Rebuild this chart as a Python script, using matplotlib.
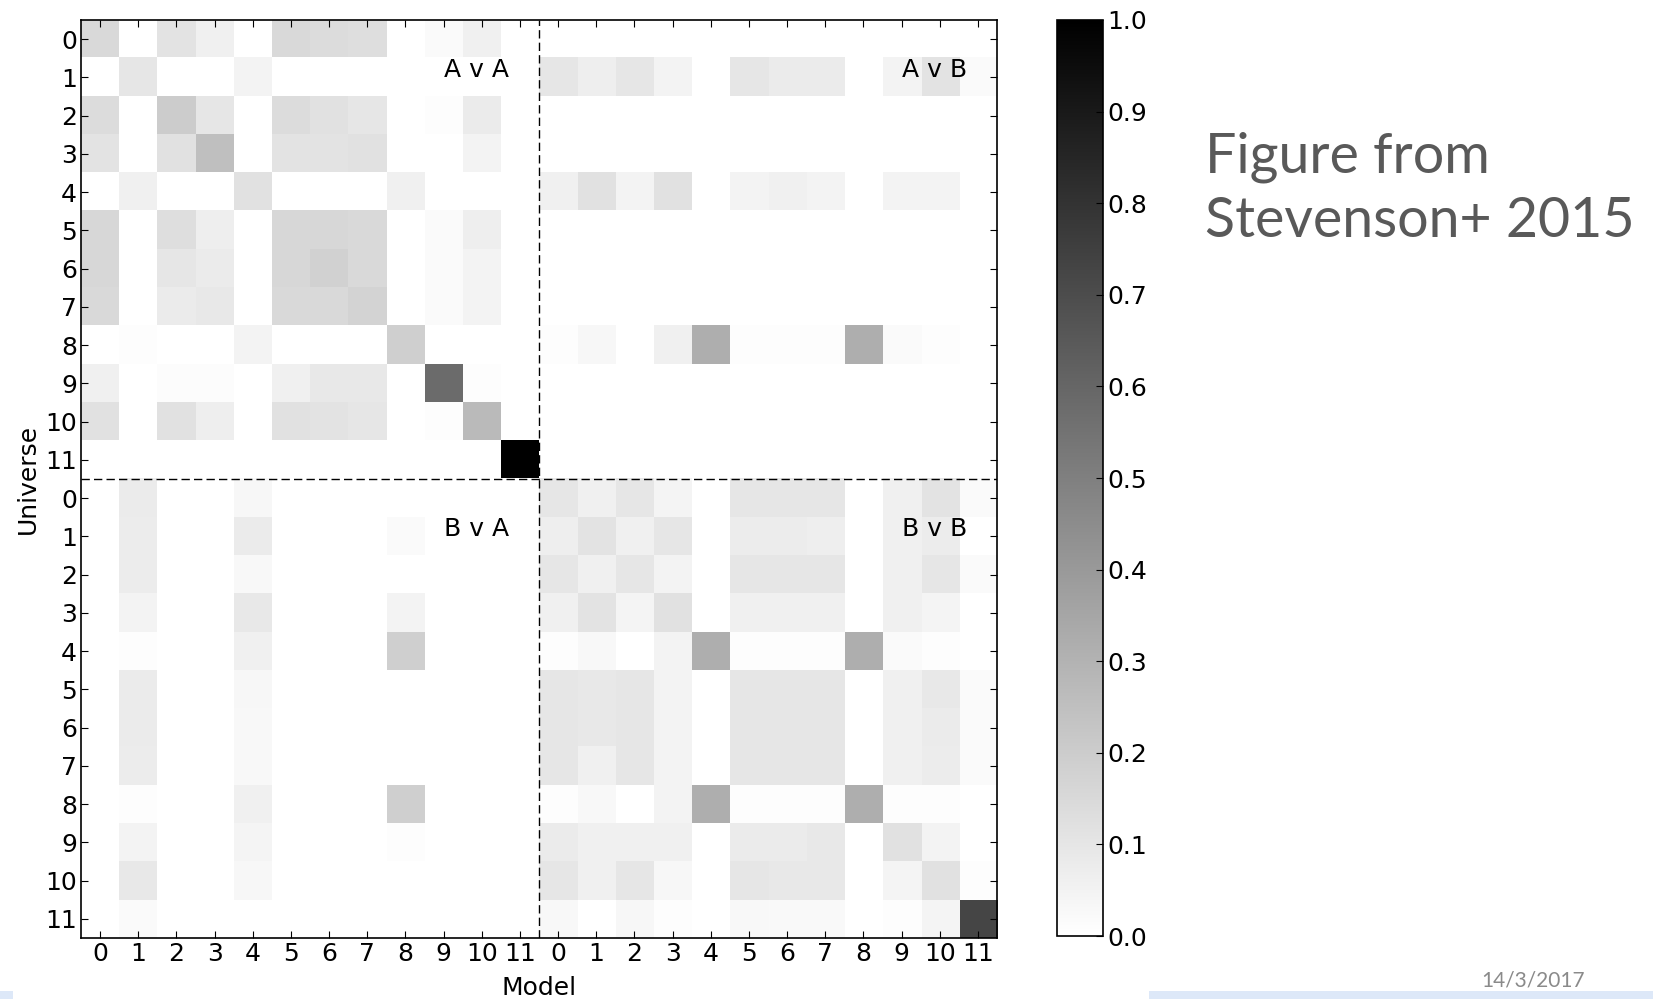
import numpy as np
import matplotlib
matplotlib.use('Agg')
import matplotlib.pyplot as plt
from matplotlib.patches import Rectangle

# Fraction of universes recovered by each model, split in four 12x12 blocks
AvA = [
    [0.15, 0.00, 0.11, 0.06, 0.00, 0.15, 0.14, 0.13, 0.00, 0.02, 0.06, 0.00],
    [0.00, 0.10, 0.00, 0.00, 0.05, 0.00, 0.00, 0.00, 0.00, 0.00, 0.00, 0.00],
    [0.14, 0.00, 0.20, 0.10, 0.00, 0.14, 0.12, 0.10, 0.00, 0.01, 0.08, 0.00],
    [0.11, 0.00, 0.12, 0.25, 0.00, 0.11, 0.11, 0.12, 0.00, 0.00, 0.05, 0.00],
    [0.00, 0.06, 0.00, 0.00, 0.12, 0.00, 0.00, 0.00, 0.06, 0.00, 0.00, 0.00],
    [0.16, 0.00, 0.13, 0.07, 0.00, 0.16, 0.16, 0.15, 0.00, 0.02, 0.07, 0.00],
    [0.16, 0.00, 0.10, 0.08, 0.00, 0.16, 0.18, 0.15, 0.00, 0.02, 0.05, 0.00],
    [0.15, 0.00, 0.08, 0.09, 0.00, 0.15, 0.15, 0.17, 0.00, 0.02, 0.05, 0.00],
    [0.00, 0.01, 0.00, 0.00, 0.05, 0.00, 0.00, 0.00, 0.19, 0.00, 0.00, 0.00],
    [0.06, 0.00, 0.015, 0.015, 0.00, 0.06, 0.09, 0.09, 0.00, 0.58, 0.01, 0.00],
    [0.12, 0.00, 0.12, 0.07, 0.00, 0.12, 0.11, 0.10, 0.00, 0.01, 0.27, 0.00],
    [0.00, 0.00, 0.00, 0.00, 0.00, 0.00, 0.00, 0.00, 0.00, 0.00, 0.00, 1.00],
]

AvB = [
    [0.00] * 12,
    [0.10, 0.07, 0.10, 0.05, 0.00, 0.10, 0.08, 0.08, 0.00, 0.05, 0.11, 0.02],
    [0.00] * 12,
    [0.00] * 12,
    [0.06, 0.12, 0.05, 0.12, 0.00, 0.05, 0.06, 0.05, 0.00, 0.05, 0.05, 0.00],
    [0.00] * 12,
    [0.00] * 12,
    [0.00] * 12,
    [0.01, 0.035, 0.00, 0.06, 0.32, 0.01, 0.01, 0.01, 0.32, 0.02, 0.01, 0.00],
    [0.00] * 12,
    [0.00] * 12,
    [0.00] * 12,
]

BvA = [
    [0.00, 0.08, 0.00, 0.00, 0.035, 0.00, 0.00, 0.00, 0.00, 0.00, 0.00, 0.00],
    [0.00, 0.075, 0.00, 0.00, 0.08, 0.00, 0.00, 0.00, 0.02, 0.00, 0.00, 0.00],
    [0.00, 0.075, 0.00, 0.00, 0.03, 0.00, 0.00, 0.00, 0.00, 0.00, 0.00, 0.00],
    [0.00, 0.05, 0.00, 0.00, 0.09, 0.00, 0.00, 0.00, 0.05, 0.00, 0.00, 0.00],
    [0.00, 0.01, 0.00, 0.00, 0.06, 0.00, 0.00, 0.00, 0.19, 0.00, 0.00, 0.00],
    [0.00, 0.08, 0.00, 0.00, 0.035, 0.00, 0.00, 0.00, 0.00, 0.00, 0.00, 0.00],
    [0.00, 0.08, 0.00, 0.00, 0.03, 0.00, 0.00, 0.00, 0.00, 0.00, 0.00, 0.00],
    [0.00, 0.075, 0.00, 0.00, 0.03, 0.00, 0.00, 0.00, 0.00, 0.00, 0.00, 0.00],
    [0.00, 0.01, 0.00, 0.00, 0.06, 0.00, 0.00, 0.00, 0.19, 0.00, 0.00, 0.00],
    [0.00, 0.05, 0.00, 0.00, 0.045, 0.00, 0.00, 0.00, 0.01, 0.00, 0.00, 0.00],
    [0.00, 0.09, 0.00, 0.00, 0.035, 0.00, 0.00, 0.00, 0.00, 0.00, 0.00, 0.00],
    [0.00, 0.02, 0.00, 0.00, 0.00, 0.00, 0.00, 0.00, 0.00, 0.00, 0.00, 0.00],
]

BvB = [
    [0.10, 0.06, 0.10, 0.045, 0.00, 0.10, 0.10, 0.10, 0.00, 0.06, 0.11, 0.02],
    [0.07, 0.11, 0.06, 0.10, 0.00, 0.075, 0.075, 0.07, 0.00, 0.06, 0.075, 0.00],
    [0.10, 0.06, 0.10, 0.05, 0.00, 0.10, 0.10, 0.10, 0.00, 0.06, 0.10, 0.02],
    [0.06, 0.11, 0.045, 0.12, 0.00, 0.06, 0.06, 0.06, 0.00, 0.06, 0.045, 0.00],
    [0.01, 0.03, 0.00, 0.05, 0.32, 0.01, 0.01, 0.01, 0.32, 0.02, 0.01, 0.00],
    [0.10, 0.09, 0.10, 0.05, 0.00, 0.10, 0.10, 0.10, 0.00, 0.06, 0.09, 0.02],
    [0.10, 0.09, 0.10, 0.05, 0.00, 0.10, 0.10, 0.10, 0.00, 0.06, 0.08, 0.02],
    [0.10, 0.06, 0.10, 0.05, 0.00, 0.10, 0.10, 0.10, 0.00, 0.06, 0.075, 0.02],
    [0.01, 0.03, 0.00, 0.05, 0.32, 0.01, 0.01, 0.01, 0.32, 0.01, 0.01, 0.00],
    [0.08, 0.06, 0.06, 0.06, 0.00, 0.08, 0.08, 0.09, 0.00, 0.12, 0.05, 0.00],
    [0.10, 0.06, 0.10, 0.035, 0.00, 0.10, 0.09, 0.09, 0.00, 0.045, 0.12, 0.01],
    [0.03, 0.00, 0.035, 0.01, 0.00, 0.03, 0.025, 0.025, 0.00, 0.01, 0.045, 0.73],
]

tick_labels = [str(i) for i in range(12)] * 2
block_labels = [(9, 1, 'A v A'), (21, 1, 'A v B'), (9, 13, 'B v A'), (21, 13, 'B v B')]
cbar_ticks = np.round(np.arange(0, 1.01, 0.1), 1)

matrix = np.block([[np.array(AvA), np.array(AvB)],
                   [np.array(BvA), np.array(BvB)]])

plt.rcParams['font.family'] = 'DejaVu Sans'
plt.rcParams['xtick.direction'] = 'in'
plt.rcParams['ytick.direction'] = 'in'

fig = plt.figure(figsize=(16.53, 9.99), dpi=100)
ax = fig.add_axes([0.049, 0.061, 0.5542, 0.919])
cax = fig.add_axes([0.6394, 0.063, 0.0278, 0.917])

im = ax.imshow(matrix, cmap='gray_r', vmin=0, vmax=1,
               interpolation='nearest', aspect='auto')

n = len(tick_labels)
ax.set_xticks(range(n))
ax.set_yticks(range(n))
ax.set_xticklabels(tick_labels, fontsize=18)
ax.set_yticklabels(tick_labels, fontsize=18)
ax.tick_params(top=True, right=True, length=5, width=0.8, pad=3)
for side in ax.spines.values():
    side.set_linewidth(1.2)

# split between the two sets of universes / models
ax.axvline(11.5, color='black', linestyle=(0, (6, 3)), linewidth=1)
ax.axhline(11.5, color='black', linestyle=(0, (6, 3)), linewidth=1)

for x, y, lab in block_labels:
    ax.text(x, y, lab, fontsize=18, ha='left', va='baseline')

ax.set_xlabel('Model', fontsize=18, labelpad=7)
ax.set_ylabel('Universe', fontsize=18, labelpad=4)

cb = fig.colorbar(im, cax=cax, ticks=cbar_ticks)
cb.ax.set_yticklabels([f'{t:.1f}' for t in cbar_ticks], fontsize=18)
cb.ax.tick_params(direction='in', length=5, width=0.8, pad=3)
cb.outline.set_linewidth(1.2)

# slide caption next to the colour bar
fig.text(0.729, 0.827, 'Figure from', fontsize=40, family='Lato',
         color='#595959', ha='left', va='baseline')
fig.text(0.729, 0.763, 'Stevenson+ 2015', fontsize=40, family='Lato',
         color='#595959', ha='left', va='baseline')

fig.text(0.896, 0.009, '14/3/2017', fontsize=15, family='Lato',
         color='#8a8a8a', ha='left', va='bottom', zorder=1)
fig.patches.append(Rectangle((0.695, 0), 0.305, 0.008, transform=fig.transFigure,
                             facecolor='#dde8f8', edgecolor='none', zorder=2))
fig.patches.append(Rectangle((0, 0), 0.008, 0.008, transform=fig.transFigure,
                             facecolor='#dde8f8', edgecolor='none', zorder=2))

fig.savefig('out.png', dpi=100)
